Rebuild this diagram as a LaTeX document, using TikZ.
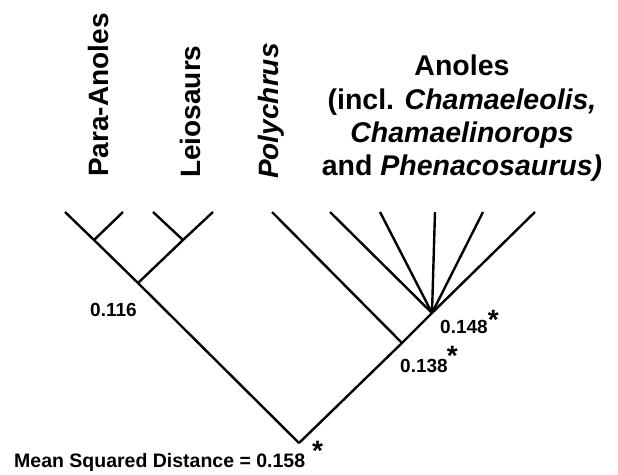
\documentclass[tikz,border=0pt]{standalone}
\usepackage{fontspec}
\setmainfont{Liberation Sans}
\begin{document}
\begin{tikzpicture}[x=1pt,y=-1pt,
  branch/.style={line width=2.4pt, line join=round},
  taxon/.style={rotate=90, anchor=base west, inner sep=0pt, font=\fontsize{28}{28}\selectfont\bfseries},
  numlab/.style={anchor=base west, inner sep=0pt, font=\fontsize{19}{19}\selectfont\bfseries},
  starmark/.style={}]
\useasboundingbox (0,0) rectangle (618,474);
% tips
\coordinate (t1) at (65,212);
\coordinate (t2) at (123,212);
\coordinate (t3) at (153,212);
\coordinate (t4) at (213,212);
\coordinate (t5) at (272,212);
\coordinate (a1) at (330,212);
\coordinate (a2) at (380,212);
\coordinate (a3) at (435,212);
\coordinate (a4) at (483,212);
\coordinate (a5) at (535,212);
% internal nodes
\coordinate (npara) at (94,240);
\coordinate (nleio) at (183,240);
\coordinate (nout) at (138,283);
\coordinate (nanol) at (432,313);
\coordinate (npoly) at (402,343);
\coordinate (root) at (299,443);
% branches
\draw[branch] (t1) -- (npara) -- (nout) -- (root);
\draw[branch] (t2) -- (npara);
\draw[branch] (t3) -- (nleio);
\draw[branch] (t4) -- (nleio) -- (nout);
\draw[branch] (a5) -- (nanol) -- (npoly) -- (root);
\draw[branch] (t5) -- (npoly);
\draw[branch] (a1) -- (nanol);
\draw[branch] (a2) -- (nanol);
\draw[branch] (a3) -- (nanol);
\draw[branch] (a4) -- (nanol);
% taxon labels
\node[taxon] (lpara) at (108,177) {Para-Anoles};
\node[taxon] (lleio) at (200,178) {Leiosaurs};
\node[taxon] (lpoly) at (278,179) {\itshape Polychrus};
\node[anchor=north, inner sep=0pt, align=center, font=\fontsize{28.5}{33.3}\selectfont\bfseries] (lanol) at (462,55)
  {Anoles\\(incl. \textit{Chamaeleolis,}\\\textit{Chamaelinorops}\\and \textit{Phenacosaurus)}};
% values
\node[numlab] (v116) at (90,316) {0.116};
\node[numlab] (v148) at (440,333) {0.148\raisebox{4pt}{\fontsize{28}{28}\selectfont *}};
\node[numlab] (v138) at (400,372) {0.138\kern-1pt\raisebox{7pt}{\fontsize{28}{28}\selectfont *}};
\node[numlab, font=\fontsize{19.5}{19.5}\selectfont\bfseries] (vmsd) at (14,467) {Mean Squared Distance = 0.158\hspace{7pt}\raisebox{7pt}{\fontsize{28}{28}\selectfont *}};
\end{tikzpicture}
\end{document}
